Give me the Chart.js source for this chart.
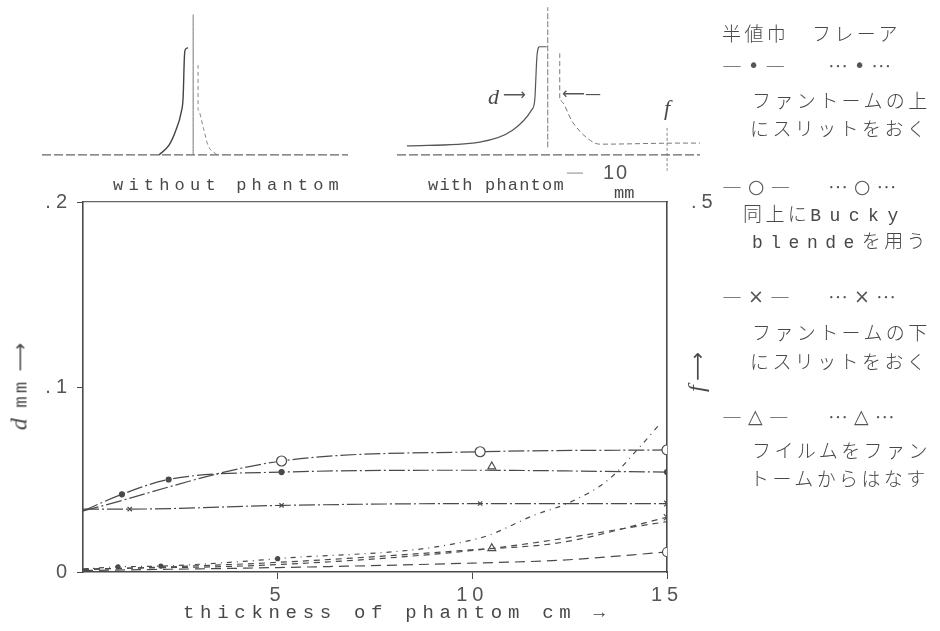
<!DOCTYPE html>
<html>
<head>
<meta charset="utf-8">
<script src="https://cdn.jsdelivr.net/npm/chart.js@4.4.0/dist/chart.umd.min.js"></script>
<style>
body { margin: 0; background: #fff; }
#wrap { position: relative; width: 940px; height: 631px; overflow: hidden; color: #484848; font-family: "Noto Sans CJK JP", sans-serif; }
canvas { position: absolute; pointer-events: none; }
.t { position: absolute; white-space: nowrap; line-height: 1; transform: translateY(-50%); }
.mono { font-family: "Liberation Mono", monospace; }
.jp { font-family: "Noto Sans CJK JP", sans-serif; font-size: 19px; letter-spacing: 3.4px; font-weight: 300; }
.sym { font-family: "Noto Sans CJK JP", sans-serif; font-size: 20px; letter-spacing: 6px; color: #555; font-weight: 300; }
.sym b { font-family: "DejaVu Sans", sans-serif; font-weight: normal; font-size: 19px; position: relative; top: -2px; }
.it { font-family: "Liberation Serif", serif; font-style: italic; }
</style>
</head>
<body>
<div id="wrap">
  <canvas id="main" width="940" height="631" style="left:0;top:0"></canvas>
  <canvas id="ins1" width="380" height="190" style="left:0;top:0"></canvas>
  <canvas id="ins2" width="330" height="190" style="left:380px;top:0"></canvas>

  <!-- inset labels -->
  <div class="t mono" style="left:113px;top:185px;font-size:17px;letter-spacing:5.2px;">without phantom</div>
  <div class="t mono" style="left:428px;top:185px;font-size:17px;letter-spacing:1.2px;">with phantom</div>
  <div class="t" style="left:603px;top:172px;font-family:'Liberation Sans';font-size:20px;letter-spacing:2px;color:#555;">10</div>
  <div class="t mono" style="left:614px;top:193px;font-size:17px;">mm</div>
  <div class="t it" style="left:488px;top:97px;font-size:22px;">d</div>
  <div class="t" style="left:503px;top:95px;font-family:'DejaVu Sans';font-size:16px;color:#555;">⟶</div>
  <div class="t" style="left:562px;top:94px;font-family:'DejaVu Sans';font-size:16px;color:#555;">⟵—</div>
  <div class="t it" style="left:664px;top:108px;font-size:22px;">f</div>

  <!-- axis titles -->
  <div class="t mono" style="left:183px;top:613px;font-size:19px;letter-spacing:5.7px;">thickness of phantom cm →</div>
  <div class="t" style="left:19px;top:385px;transform:translate(-50%,-50%) rotate(-90deg);font-size:20px;letter-spacing:3px;"><span class="it" style="font-size:24px;">d</span>  <span class="mono" style="font-size:19px;">mm</span> <span style="font-family:'DejaVu Sans';">⟶</span></div>
  <div class="t" style="left:696px;top:372px;transform:translate(-50%,-50%) rotate(-90deg);font-size:20px;"><span class="it" style="font-size:24px;">f</span>  <span style="font-family:'DejaVu Sans';">⟶</span></div>

  <!-- legend -->
  <div class="t jp" style="left:722px;top:32px;">半値巾</div>
  <div class="t jp" style="left:812px;top:32px;">フレーア</div>
  <div class="t sym" style="left:722px;top:66px;">―<b>•</b>―</div>
  <div class="t sym" style="left:828px;top:66px;">…<b>•</b>…</div>
  <div class="t jp" style="left:752px;top:99px;">ファントームの上</div>
  <div class="t jp" style="left:750px;top:127px;">にスリットをおく</div>

  <div class="t sym" style="left:722px;top:187px;">―<b>○</b>―</div>
  <div class="t sym" style="left:828px;top:187px;">…<b>○</b>…</div>
  <div class="t jp" style="left:743px;top:214px;">同上に<span class="mono" style="font-size:18px;letter-spacing:8.5px;">Bucky</span></div>
  <div class="t jp" style="left:752px;top:241px;"><span class="mono" style="font-size:18px;letter-spacing:7.5px;">blende</span>を用う</div>

  <div class="t sym" style="left:722px;top:297px;">―<b>×</b>―</div>
  <div class="t sym" style="left:828px;top:297px;">…<b>×</b>…</div>
  <div class="t jp" style="left:752px;top:331px;">ファントームの下</div>
  <div class="t jp" style="left:750px;top:360px;">にスリットをおく</div>

  <div class="t sym" style="left:722px;top:417px;">―<b>△</b>―</div>
  <div class="t sym" style="left:828px;top:417px;">…<b>△</b>…</div>
  <div class="t jp" style="left:752px;top:449px;">フイルムをファン</div>
  <div class="t jp" style="left:750px;top:477px;">トームからはなす</div>
</div>

<script>
// 목측 데이터 (phantom thickness cm → d mm / f)
const xTickVals = [5, 10, 15];
const xTickText = ['5', '10', '15'];
const dTickVals = [0, 0.1, 0.2];
const dTickText = ['0', '.1', '.2'];
const fTickVals = [0.5];
const fTickText = ['.5'];

// 半値巾 (d, left axis)
const dotHalfX = [0, 1.0, 2.2, 5.1, 10, 15];
const dotHalfY = [0.033, 0.042, 0.050, 0.054, 0.055, 0.054];
const circHalfX = [0, 5.1, 10.2, 15];
const circHalfY = [0.033, 0.060, 0.065, 0.066];
const crossHalfX = [0, 1.2, 5.1, 10.2, 15];
const crossHalfY = [0.034, 0.034, 0.036, 0.037, 0.037];
const triHalfX = [10.5];
const triHalfY = [0.057];

// フレーア (f, right axis)
const dotFlareX = [0, 0.9, 2.0, 5.0, 10.2, 11.6, 12.5, 13.5, 14.3, 14.8];
const dotFlareY = [0.004, 0.007, 0.008, 0.018, 0.046, 0.077, 0.094, 0.125, 0.169, 0.199];
const circFlareX = [0, 5, 10, 12.3, 15];
const circFlareY = [0.002, 0.006, 0.012, 0.016, 0.027];
const crossFlareX = [0, 5, 10, 12.3, 15];
const crossFlareY = [0.003, 0.013, 0.030, 0.040, 0.074];
const triFlareX = [0, 5, 10.5, 15];
const triFlareY = [0.004, 0.010, 0.032, 0.068];

// inset profiles (mm, relative intensity)
const noPhLeftX = [-4.2, -2.9, -2.0, -1.3, -1.05, -0.9, -0.8, -0.4];
const noPhLeftY = [0, 0.09, 0.23, 0.40, 0.54, 0.89, 0.98, 1.0];
const noPhRightX = [0.9, 0.9, 1.6, 2.2, 3.4];
const noPhRightY = [0.84, 0.42, 0.25, 0.09, 0];
const phLeftX = [-18.4, -8.9, -4.6, -2.1, -1.7, -1.4, -1.05, -0.13];
const phLeftY = [0.084, 0.12, 0.23, 0.42, 0.51, 0.93, 1.01, 1.01];
const phRightX = [1.57, 1.57, 3.3, 5.1, 6.8, 17.3, 19.9];
const phRightY = [0.95, 0.51, 0.30, 0.16, 0.10, 0.11, 0.11];

const ink = '#4a4a4a';

function pts(xs, ys) {
    return xs.map((x, i) => ({ x: x, y: ys[i] }));
}

function line(xs, ys, axis, dash, pointStyle, radii, fill) {
    return {
        data: pts(xs, ys),
        yAxisID: axis,
        borderColor: ink,
        borderWidth: 1.2,
        borderDash: dash,
        cubicInterpolationMode: 'monotone',
        pointStyle: pointStyle,
        pointRadius: radii,
        pointBorderColor: ink,
        pointBorderWidth: 1.2,
        pointBackgroundColor: fill,
        showLine: xs.length > 1
    };
}

const halfDash = [16, 3, 2, 3];
const flareDash = [6, 5];

const spacing = {
    id: 'spacing',
    beforeDraw(chart) { chart.ctx.letterSpacing = '5px'; },
    afterDraw(chart) { chart.ctx.letterSpacing = '0px'; }
};

new Chart(document.getElementById('main'), {
    type: 'line',
    data: {
        datasets: [
            line(dotHalfX, dotHalfY, 'y', halfDash, 'circle', [0, 2.5, 2.5, 2.5, 0, 2.5], ink),
            line(circHalfX, circHalfY, 'y', halfDash, 'circle', [0, 5, 5, 5], '#fff'),
            line(crossHalfX, crossHalfY, 'y', halfDash, 'crossRot', [0, 3, 3, 3, 4], ink),
            line(triHalfX, triHalfY, 'y', halfDash, 'triangle', [4.5], '#fff'),
            line(dotFlareX, dotFlareY, 'y2', [5, 5, 1, 5], 'circle', [0, 2, 2, 2, 0, 0, 0, 0, 0, 0], ink),
            line(circFlareX, circFlareY, 'y2', [10, 6], 'circle', [0, 0, 0, 0, 4.5], '#fff'),
            line(crossFlareX, crossFlareY, 'y2', flareDash, 'crossRot', [0, 0, 0, 0, 4.5], ink),
            line(triFlareX, triFlareY, 'y2', flareDash, 'triangle', [0, 0, 4.5, 0], '#fff')
        ]
    },
    options: {
        responsive: false,
        animation: false,
        layout: { padding: { top: 202, left: 0, right: 0, bottom: 0 } },
        plugins: { legend: { display: false }, tooltip: { enabled: false } },
        scales: {
            x: {
                type: 'linear', position: 'bottom', min: 0, max: 15,
                afterBuildTicks: s => { s.ticks = xTickVals.map(v => ({ value: v })); },
                afterFit: s => { s.height = 59; },
                ticks: {
                    autoSkip: false, maxRotation: 0, padding: 4, color: '#555',
                    font: { family: 'Liberation Sans', size: 20 },
                    callback: v => xTickText[xTickVals.indexOf(v)]
                },
                grid: { drawOnChartArea: false, tickLength: 7, color: ink },
                border: { color: ink, width: 1.6 }
            },
            x2: {
                type: 'linear', position: 'top', min: 0, max: 15,
                afterFit: s => { s.height = 0; },
                ticks: { display: false },
                grid: { display: false },
                border: { color: '#666', width: 1.3, dash: [30, 3, 2, 3] }
            },
            y: {
                position: 'left', min: 0, max: 0.2,
                afterBuildTicks: s => { s.ticks = dTickVals.map(v => ({ value: v })); },
                afterFit: s => { s.width = 83; },
                ticks: {
                    padding: 5, color: '#555',
                    font: { family: 'Liberation Sans', size: 20 },
                    callback: v => dTickText[dTickVals.indexOf(v)]
                },
                grid: { drawOnChartArea: false, tickLength: 6, color: ink },
                border: { color: ink, width: 1.6 }
            },
            y2: {
                position: 'right', min: 0, max: 0.5,
                afterBuildTicks: s => { s.ticks = fTickVals.map(v => ({ value: v })); },
                afterFit: s => { s.width = 273; },
                ticks: {
                    padding: 16, color: '#555',
                    font: { family: 'Liberation Sans', size: 20 },
                    callback: v => fTickText[fTickVals.indexOf(v)]
                },
                grid: { display: false },
                border: { color: ink, width: 1.6 }
            }
        }
    },
    plugins: [spacing]
});

function inset(id, xMin, xMax, padL, padR, datasets) {
    new Chart(document.getElementById(id), {
        type: 'line',
        data: { datasets: datasets },
        options: {
            responsive: false,
            animation: false,
            layout: { padding: { top: 5, left: padL, right: padR, bottom: 3 } },
            plugins: { legend: { display: false }, tooltip: { enabled: false } },
            scales: {
                x: { type: 'linear', min: xMin, max: xMax, display: false },
                y: { min: -0.3, max: 1.4, display: false }
            }
        }
    });
}

function prof(xs, ys, dash, color, width) {
    return {
        data: pts(xs, ys), borderColor: color, borderWidth: width, borderDash: dash,
        pointRadius: 0, cubicInterpolationMode: 'monotone'
    };
}

inset('ins1', -19.5, 20.5, 42, 32, [
    prof([-19.5, 20.5], [0, 0], [9, 3], '#666', 1.2),
    prof([0.26, 0.26], [0, 1.31], [], '#777', 1),
    prof(noPhLeftX, noPhLeftY, [], '#444', 1.4),
    prof(noPhRightX, noPhRightY, [4, 3], '#888', 1)
]);

inset('ins2', -19.7, 19.9, 17, 10, [
    prof([-19.7, 19.9], [0, 0], [9, 3], '#666', 1.2),
    prof([0, 0], [0.07, 1.38], [6, 2], '#777', 1),
    prof(phLeftX, phLeftY, [], '#555', 1.2),
    prof(phRightX, phRightY, [5, 3], '#777', 1),
    prof([15.6, 15.6], [-0.15, 0.26], [3, 2], '#888', 1),
    prof([2.5, 4.6], [-0.17, -0.17], [], '#888', 1)
]);
</script>
</body>
</html>
